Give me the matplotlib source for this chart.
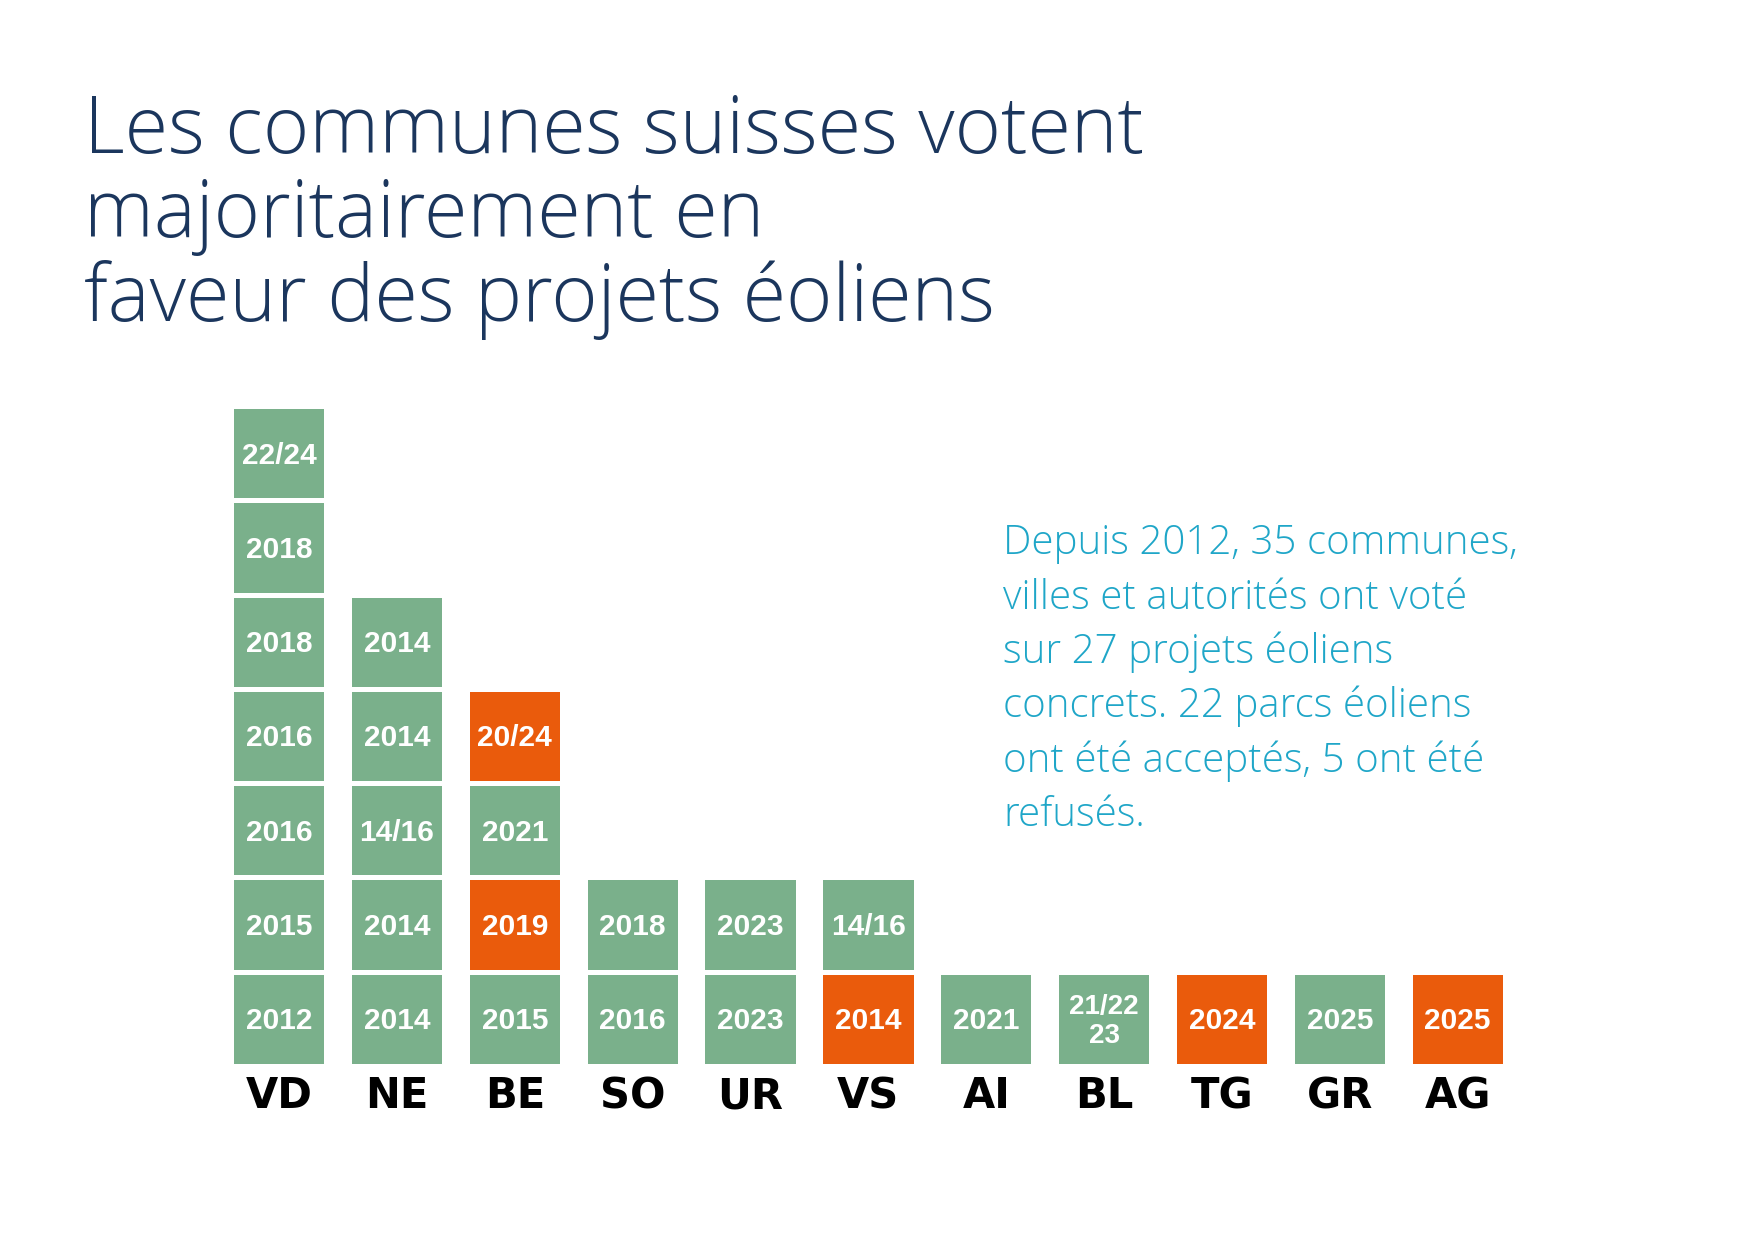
import numpy as np
import matplotlib.pyplot as plt

# Cantons and their votes, stacked from bottom to top
cantons = ['VD', 'NE', 'BE', 'SO', 'UR', 'VS', 'AI', 'BL', 'TG', 'GR', 'AG']
votes = [
    ['2012', '2015', '2016', '2016', '2018', '2018', '22/24'],
    ['2014', '2014', '14/16', '2014', '2014'],
    ['2015', '2019', '2021', '20/24'],
    ['2016', '2018'],
    ['2023', '2023'],
    ['2014', '14/16'],
    ['2021'],
    ['21/22\n23'],
    ['2024'],
    ['2025'],
    ['2025'],
]
# True = accepted (green), False = refused (orange)
accepted = [
    [True] * 7,
    [True] * 5,
    [True, False, True, False],
    [True, True],
    [True, True],
    [False, True],
    [True],
    [True],
    [False],
    [True],
    [False],
]

title_lines = ['Les communes suisses votent', 'majoritairement en', 'faveur des projets éoliens']
note_lines = ['Depuis 2012, 35 communes,', 'villes et autorités ont voté', 'sur 27 projets éoliens',
              'concrets. 22 parcs éoliens', 'ont été acceptés, 5 ont été', 'refusés.']

green = '#7ab08b'
orange = '#ea5b0c'
navy = '#1b365d'
cyan = '#1fa6c8'

fig = plt.figure(figsize=(17.48, 12.4), dpi=100)
ax = fig.add_axes([0.126, 0.1401, 0.7416, 0.532])

gap = 0.053
for i, (col, ok) in enumerate(zip(votes, accepted)):
    for row, (label, good) in enumerate(zip(col, ok)):
        ax.bar(i, 1 - gap, bottom=row + gap / 2, width=0.766,
               color=green if good else orange, edgecolor='none')
        fs = 21.5 if '\n' not in label else 20
        ax.text(i, row + 0.48, label, ha='center', va='center', color='white',
                fontsize=fs, fontweight='bold', family='Liberation Sans', linespacing=1.15)
    ax.text(i, -0.32, cantons[i], ha='center', va='center', color='black',
            fontsize=30, fontweight='bold', family='DejaVu Sans')

ax.set_xlim(-0.5, len(cantons) - 0.5)
ax.set_ylim(0, 7)
ax.axis('off')

for k, line in enumerate(title_lines):
    fig.text(0.0478, 0.877 - k * 0.068, line, ha='left', va='baseline', color=navy,
             fontsize=57, family='Open Sans', fontweight='light')

for k, line in enumerate(note_lines):
    fig.text(0.574, 0.553 - k * 0.0438, line, ha='left', va='baseline', color=cyan,
             fontsize=29, family='Open Sans', fontweight='light')

fig.savefig('out.png', dpi=100, facecolor='white')
